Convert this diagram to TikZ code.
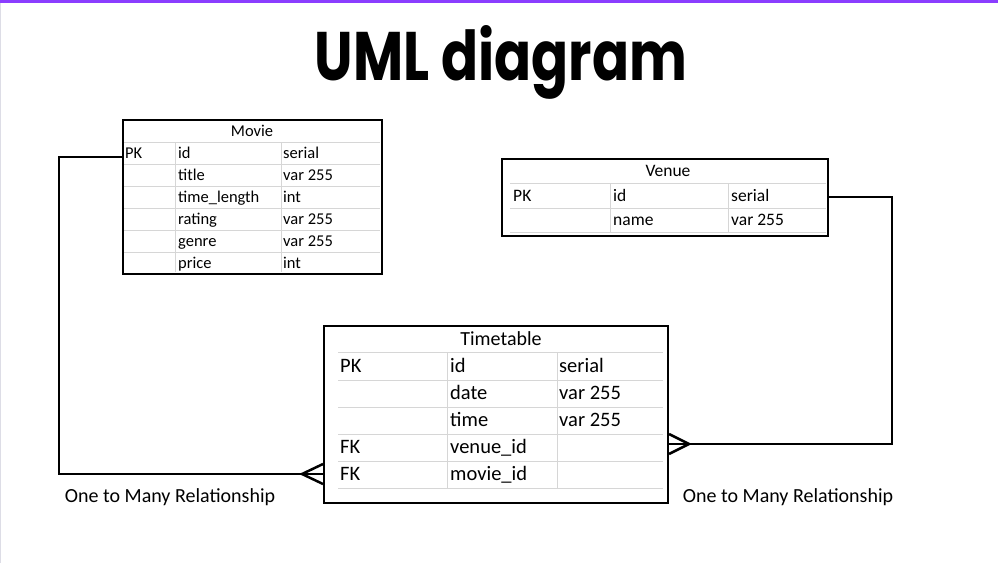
\documentclass[tikz,border=0pt]{standalone}
\usepackage{fontspec}
\setmainfont{Carlito}
\newfontfamily\titlefont{Poppins}
\definecolor{topbar}{HTML}{8B3DFF}
\definecolor{sidebar}{HTML}{DDDDE6}
\definecolor{gridgray}{HTML}{D6D6D6}
\tikzset{
  tablebox/.style={draw=black, line width=2pt, rectangle, inner sep=0pt, anchor=north west},
  gridline/.style={draw=gridgray, line width=1pt},
  cellM/.style={anchor=base west, inner sep=0pt, font=\fontsize{16.5}{19}\selectfont},
  cellV/.style={anchor=base west, inner sep=0pt, font=\fontsize{17.5}{20}\selectfont},
  cellT/.style={anchor=base west, inner sep=0pt, font=\fontsize{20.5}{23}\selectfont},
  link/.style={draw=black, line width=2.5pt},
  crow/.style={draw=black, line width=2.5pt},
  relabel/.style={anchor=base, inner sep=0pt, font=\fontsize{20}{24}\selectfont}
}
\begin{document}
\begin{tikzpicture}[x=1pt,y=-1pt]
\useasboundingbox (0,0) rectangle (998,563);
\fill[white] (0,0) rectangle (998,563);
\fill[topbar] (0,0) rectangle (998,2.5);
\fill[sidebar] (0,2.5) rectangle (1.2,563);

% title
\node[anchor=base, inner sep=0pt] (title) at (501,80) {\resizebox{372pt}{55pt}{\titlefont\bfseries UML diagram}};

% ---------- Movie ----------
\node[tablebox, minimum width=259pt, minimum height=154pt] (movie) at (122,119) {};
\foreach \yy in {142,164,186,208,230,252}{\draw[gridline] (123,\yy) -- (380,\yy);}
\foreach \xx in {175,281}{\draw[gridline] (\xx,142) -- (\xx,272);}
\node[tablebox, minimum width=259pt, minimum height=154pt] at (122,119) {};
\node[anchor=base, inner sep=0pt, font=\fontsize{16.5}{19}\selectfont] (mhead) at (252,136.5) {Movie};
\node[cellM] (mpk) at (125,158.5) {PK};
\node[cellM] (mid) at (178,158.5) {id};
\node[cellM] (mids) at (283,158.5) {serial};
\node[cellM] (mtitle) at (178,180.5) {title};
\node[cellM] (mtitles) at (283,180.5) {var 255};
\node[cellM] (mtl) at (178,202.5) {time\_length};
\node[cellM] (mtls) at (283,202.5) {int};
\node[cellM] (mrat) at (178,224.5) {rating};
\node[cellM] (mrats) at (283,224.5) {var 255};
\node[cellM] (mgen) at (178,246.5) {genre};
\node[cellM] (mgens) at (283,246.5) {var 255};
\node[cellM] (mpr) at (178,268.5) {price};
\node[cellM] (mprs) at (283,268.5) {int};

% ---------- Venue ----------
\node[tablebox, minimum width=326pt, minimum height=77pt] (venue) at (501,158) {};
\foreach \yy in {183,208,232}{\draw[gridline] (510,\yy) -- (826,\yy);}
\foreach \xx in {610,728}{\draw[gridline] (\xx,183) -- (\xx,232);}
\node[tablebox, minimum width=326pt, minimum height=77pt] at (501,158) {};
\node[anchor=base, inner sep=0pt, font=\fontsize{17.5}{20}\selectfont] (vhead) at (668,176) {Venue};
\node[cellV] (vpk) at (513,201.5) {PK};
\node[cellV] (vid) at (613,201.5) {id};
\node[cellV] (vids) at (731,201.5) {serial};
\node[cellV] (vname) at (613,225.5) {name};
\node[cellV] (vnames) at (731,225.5) {var 255};

% ---------- Timetable ----------
\node[tablebox, minimum width=344pt, minimum height=177pt] (tt) at (323,325) {};
\foreach \yy in {352,380,407,434,461,488}{\draw[gridline] (338,\yy) -- (663,\yy);}
\foreach \xx in {447,557}{\draw[gridline] (\xx,352) -- (\xx,488);}
\node[anchor=base, inner sep=0pt, font=\fontsize{20}{23}\selectfont] (thead) at (501,345.5) {Timetable};
\node[cellT] (tpk) at (340,372.5) {PK};
\node[cellT] (tid) at (450,372.5) {id};
\node[cellT] (tids) at (559,372.5) {serial};
\node[cellT] (tdate) at (450,399.5) {date};
\node[cellT] (tdates) at (559,399.5) {var 255};
\node[cellT] (ttime) at (450,426.5) {time};
\node[cellT] (ttimes) at (559,426.5) {var 255};
\node[cellT] (tfk1) at (340,453.5) {FK};
\node[cellT] (tvid) at (450,453.5) {venue\_id};
\node[cellT] (tfk2) at (340,480.5) {FK};
\node[cellT] (tmid) at (450,480.5) {movie\_id};

% ---------- connectors ----------
\coordinate (mleft) at (59,157);
\coordinate (mbottom) at (59,474);
\coordinate (mtip) at (302,474);
\draw[link] (movie.west |- 0,157) -- (mleft) -- (mbottom) -- (tt.west |- 0,474);
\draw[crow] (tt.west |- 0,464) -- (mtip) -- (tt.west |- 0,484);

\coordinate (vright) at (892,197);
\coordinate (vbottom) at (892,444);
\coordinate (vtip) at (689,444);
\draw[link] (venue.east |- 0,197) -- (vright) -- (vbottom) -- (tt.east |- 0,444);
\draw[crow] (tt.east |- 0,434) -- (vtip) -- (tt.east |- 0,454);

% labels
\node[relabel] (lab1) at (170,502.5) {One to Many Relationship};
\node[relabel] (lab2) at (788,502.5) {One to Many Relationship};
\end{tikzpicture}
\end{document}
